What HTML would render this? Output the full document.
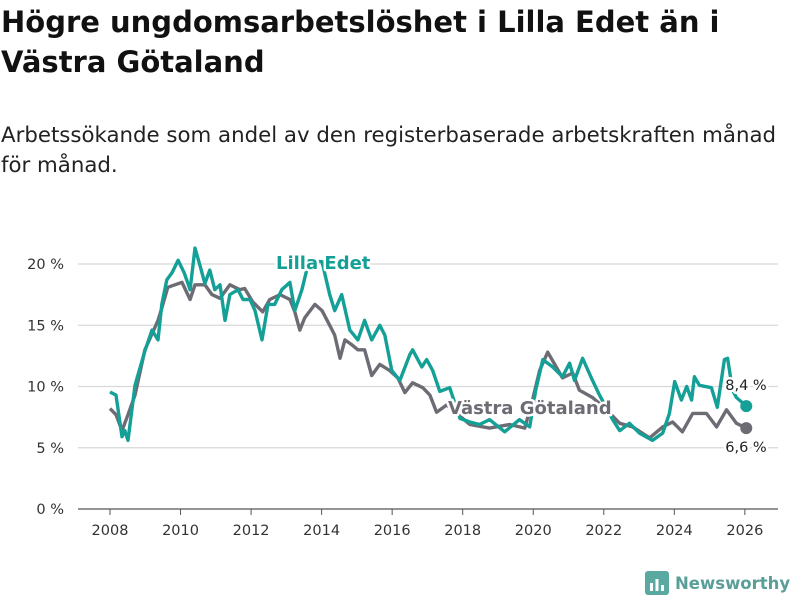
<!DOCTYPE html>
<html><head><meta charset="utf-8"><style>
body{margin:0;width:800px;height:600px;background:#fff;font-family:"DejaVu Sans",sans-serif;overflow:hidden;position:relative}
h1{position:absolute;left:1px;top:2px;margin:0;font-size:29px;line-height:40px;font-weight:bold;color:#111;white-space:nowrap}
.sub{position:absolute;left:1px;top:121px;margin:0;font-size:21.3px;line-height:30px;color:#222;white-space:nowrap}
</style></head><body>
<h1>Högre ungdomsarbetslöshet i Lilla Edet än i<br>Västra Götaland</h1>
<p class="sub">Arbetssökande som andel av den registerbaserade arbetskraften månad<br>för månad.</p>
<svg id="chart" width="800" height="600" style="position:absolute;left:0;top:0" font-family="DejaVu Sans, sans-serif"></svg>
<script>
const yTicks=[0,5,10,15,20];
const yTickLabels=["0 %","5 %","10 %","15 %","20 %"];
const xTicks=[2008,2010,2012,2014,2016,2018,2020,2022,2024,2026];
const lillaYears=[2008.00,2008.17,2008.34,2008.42,2008.51,2008.71,2008.99,2009.19,2009.36,2009.47,2009.61,2009.76,2009.93,2010.10,2010.27,2010.41,2010.55,2010.69,2010.83,2010.97,2011.12,2011.26,2011.40,2011.63,2011.77,2011.97,2012.11,2012.31,2012.48,2012.67,2012.87,2013.10,2013.24,2013.44,2013.61,2013.81,2014.01,2014.23,2014.37,2014.57,2014.80,2015.03,2015.22,2015.42,2015.65,2015.79,2015.99,2016.22,2016.50,2016.58,2016.84,2016.98,2017.15,2017.35,2017.63,2017.92,2018.20,2018.48,2018.76,2019.19,2019.61,2019.90,2020.07,2020.27,2020.55,2020.83,2021.03,2021.17,2021.40,2021.68,2021.88,2022.25,2022.45,2022.73,2023.01,2023.38,2023.67,2023.86,2024.01,2024.20,2024.35,2024.49,2024.57,2024.71,2025.05,2025.22,2025.42,2025.51,2025.65,2025.76,2026.04];
const lillaValues=[9.55,9.3,5.9,6.4,5.6,10.1,12.9,14.6,13.8,16.7,18.7,19.3,20.3,19.3,17.9,21.3,19.9,18.4,19.5,17.9,18.3,15.4,17.5,17.9,17.1,17.1,16.2,13.8,16.7,16.7,17.9,18.5,16.2,17.9,19.9,20.2,20.2,17.5,16.2,17.5,14.6,13.8,15.4,13.8,15.0,14.2,11.3,10.5,12.6,13.0,11.6,12.2,11.3,9.6,9.9,7.4,7.1,6.9,7.3,6.3,7.3,6.7,9.7,12.2,11.6,10.8,11.9,10.5,12.3,10.5,9.3,7.3,6.4,7.0,6.2,5.6,6.2,7.8,10.4,8.9,10.0,8.9,10.8,10.1,9.9,8.3,12.2,12.3,9.7,9.1,8.4];
const vgYears=[2008.00,2008.17,2008.34,2008.51,2008.71,2008.99,2009.36,2009.47,2009.64,2009.84,2010.04,2010.27,2010.41,2010.69,2010.89,2011.12,2011.40,2011.68,2011.82,2012.05,2012.33,2012.53,2012.82,2013.10,2013.24,2013.38,2013.52,2013.81,2014.01,2014.23,2014.37,2014.52,2014.66,2014.86,2015.03,2015.22,2015.42,2015.65,2015.93,2016.16,2016.36,2016.58,2016.87,2017.07,2017.26,2017.55,2018.20,2018.76,2019.33,2019.76,2019.98,2020.18,2020.41,2020.83,2021.12,2021.31,2021.68,2022.08,2022.45,2022.82,2023.30,2023.67,2023.95,2024.23,2024.52,2024.91,2025.20,2025.48,2025.76,2026.04];
const vgValues=[8.2,7.7,6.4,7.7,9.3,13.0,15.4,16.4,18.1,18.3,18.5,17.1,18.3,18.3,17.5,17.2,18.3,17.9,18.0,16.9,16.1,17.1,17.5,17.1,16.1,14.6,15.6,16.7,16.2,15.0,14.2,12.3,13.8,13.4,13.0,13.0,10.9,11.8,11.3,10.7,9.5,10.3,9.9,9.3,7.9,8.5,6.9,6.6,6.9,6.6,8.9,11.3,12.8,10.7,11.1,9.7,9.1,8.1,7.0,6.7,5.8,6.7,7.1,6.3,7.8,7.8,6.7,8.1,7.0,6.6];
const lastLabels=["8,4 %","6,6 %"];
const svg=document.getElementById('chart');const NS="http://www.w3.org/2000/svg";
const X=v=>110+(v-2008)*35.27, Y=v=>509-v*12.25;
function mk(t,a,p){const e=document.createElementNS(NS,t);for(const k in a)e.setAttribute(k,a[k]);(p||svg).appendChild(e);return e;}
yTicks.forEach((t,i)=>{
 const l=mk('line',{x1:78,x2:778,y1:Y(t),y2:Y(t),stroke:t===0?'#555':'#d8d8d8','stroke-width':t===0?1.2:1.3});
 
 
 const tx=mk('text',{x:64,y:Y(t)+5,'text-anchor':'end','font-size':14.5,fill:'#333'});tx.textContent=yTickLabels[i];
 
 
});
xTicks.forEach(t=>{
 const l=mk('line',{x1:X(t),x2:X(t),y1:509,y2:515,stroke:'#555'});
 
 
 const tx=mk('text',{x:X(t),y:535,'text-anchor':'middle','font-size':14.5,fill:'#333'});tx.textContent=t;
 
 
});
function series(ys,vs,col,name){
 const d=ys.map((y,i)=>(i?'L':'M')+X(y).toFixed(1)+' '+Y(vs[i]).toFixed(1)).join('');
 const p=mk('path',{d:d,fill:'none',stroke:col,'stroke-width':3.4,'stroke-linejoin':'round'});
 
 
 const c=mk('circle',{cx:X(ys[ys.length-1]),cy:Y(vs[vs.length-1]),r:6,fill:col});
 
 
}
series(vgYears,vgValues,'#6d6b73','vastra-gotaland');
series(lillaYears,lillaValues,'#14a097','lilla-edet');
function label(x,y,txt,col,bold,size,anchor,name){
 const t=mk('text',{x:x,y:y,'font-size':size,'font-weight':bold?'bold':'normal',fill:col,'text-anchor':anchor,stroke:'#fff','stroke-width':5,'paint-order':'stroke','stroke-linejoin':'round'});
 t.textContent=txt;
 
 
}
label(276,269,'Lilla Edet','#14a097',true,18,'start','series-label-lilla-edet');
label(448,414,'Västra Götaland','#6d6b73',true,18,'start','series-label-vastra-gotaland');
label(746,390,lastLabels[0],'#222',false,14.5,'middle','end-value-lilla-edet');
label(746,452,lastLabels[1],'#222',false,14.5,'middle','end-value-vastra-gotaland');
</script>
<div style="position:absolute;left:645px;top:570px;height:26px;display:flex;align-items:center">
<svg width="24" height="24"><rect x="0" y="0" width="24" height="24" rx="3" fill="#5aa9a0"/><rect x="5" y="12" width="3" height="8" fill="#fff"/><rect x="10.5" y="8" width="3" height="12" fill="#fff"/><rect x="16" y="14" width="3" height="6" fill="#fff"/></svg>
<span style="margin-left:6px;font-size:16.5px;font-weight:bold;color:#5a9e98">Newsworthy</span>
</div>
</body></html>
